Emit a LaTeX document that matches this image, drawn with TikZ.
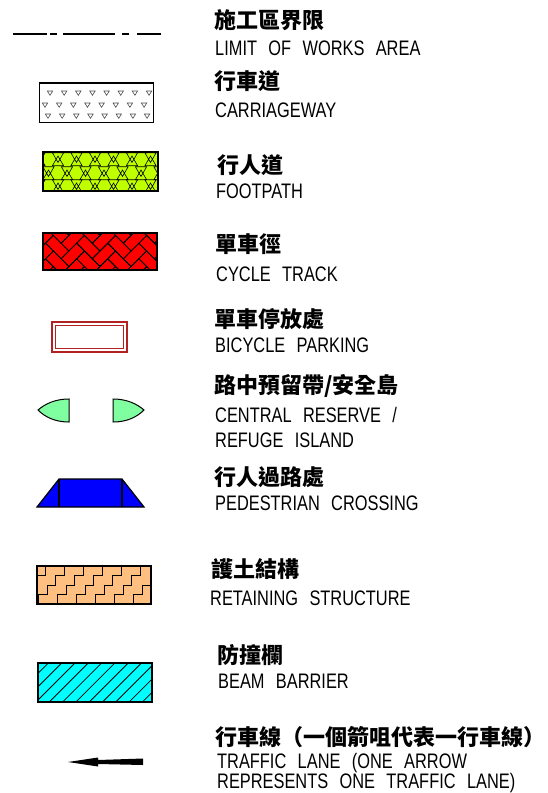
\documentclass[tikz,border=0pt]{standalone}
\usepackage{fontspec}
\setmainfont{Liberation Sans}[FakeStretch=0.78,WordSpace=2.5]
\newfontfamily\cjk{Noto Sans CJK TC}
\definecolor{footgreen}{RGB}{191,255,0}
\definecolor{islandgreen}{RGB}{128,255,160}
\definecolor{retainorange}{RGB}{255,191,128}
\definecolor{parkred}{RGB}{178,34,34}
\definecolor{barriercyan}{RGB}{0,255,255}

\begin{document}
\begin{tikzpicture}[x=1pt,y=-1pt,
    zh/.style={anchor=west,inner sep=0pt,font=\cjk\bfseries\fontsize{22}{22}\selectfont},
    en/.style={anchor=base west,inner sep=0pt,font=\fontsize{21}{21}\selectfont},
    legbox/.style={draw=black,line width=1.5pt},
    hatch/.style={black,line width=0.8pt}]
  \useasboundingbox (0,0) rectangle (548,793);

  % limit of works area
  \draw[line width=2.8pt] (13,34) -- (47,34) (50,34) -- (57,34) (63,34) -- (115,34)
    (122,34) -- (129,34) (137,34) -- (161,34);
  \node[zh] (limitzh) at (214,20) {施工區界限};
  \node[en] (limiten) at (215,55) {LIMIT OF WORKS AREA};

  % carriageway
  \begin{scope}
    \clip (39.5,83) rectangle (153.5,122.5);
    \foreach \yc/\xs in {93/50,105/45,116/48}
      \foreach \k in {0,...,7}
        \draw[hatch,line width=0.6pt,black!70] (\xs+14.15*\k,\yc) ++(-2.7,-2) -- ++(5.4,0) -- ++(-2.7,4.3) -- cycle;
  \end{scope}
  \draw[legbox,line width=1.2pt] (39.5,83) rectangle (153.5,122.5);
  \node[zh] (roadzh) at (214,81) {行車道};
  \node[en] (roaden) at (215,117) {CARRIAGEWAY};

  % footpath
  \fill[footgreen] (43,152) rectangle (158,191);
  \begin{scope}
    \clip (43,152) rectangle (158,191);
    \foreach \yc/\xs in {143/67,156/58,170/67,183/58,197/67}
      \foreach \k in {-1,...,6}
        \draw[hatch,line width=0.6pt] (\xs+18.5*\k,\yc) +(90:6.5) -- +(210:6.5) -- +(330:6.5) -- cycle
                     +(270:6.5) -- +(30:6.5) -- +(150:6.5) -- cycle;
  \end{scope}
  \draw[legbox] (43,152) rectangle (158,191);
  \node[zh] (footzh) at (217,165.5) {行人道};
  \node[en] (footen) at (216,198) {FOOTPATH};

  % cycle track
  \fill[red] (43,233) rectangle (157,270);
  \begin{scope}
    \clip (43,233) rectangle (157,270);
    \begin{scope}[shift={(100,251)},rotate=45,x=11pt,y=11pt]
      \foreach \i in {-9,...,9}
        \foreach \j in {-5,...,5} {
          \draw[hatch] (\i+2*\j,\i-2*\j) rectangle ++(2,1);
          \draw[hatch] (\i+2*\j,\i-2*\j+1) rectangle ++(1,2);
        }
    \end{scope}
  \end{scope}
  \draw[legbox] (43,233) rectangle (157,270);
  \node[zh] (cyclezh) at (215,244) {單車徑};
  \node[en] (cycleen) at (216,281) {CYCLE TRACK};

  % bicycle parking
  \draw[parkred,line width=1.3pt] (52,322) rectangle (127,352);
  \draw[parkred,line width=1.3pt] (55.5,325.5) rectangle (123.5,348.5);
  \node[zh] (parkzh) at (214,319) {單車停放處};
  \node[en] (parken) at (215,352) {BICYCLE PARKING};

  % central reserve / refuge island
  \filldraw[fill=islandgreen,draw=black,line width=1pt] (69,399) .. controls (55,399) and (45,404) .. (38,410)
    .. controls (45,417) and (55,422) .. (69,422) -- cycle;
  \filldraw[fill=islandgreen,draw=black,line width=1pt] (113,399) .. controls (127,399) and (137,404) .. (144,410)
    .. controls (137,417) and (127,422) .. (113,422) -- cycle;
  \node[zh] (islandzh) at (214,386) {路中預留帶/安全島};
  \node[en] (islanden) at (215,422) {CENTRAL RESERVE /};
  \node[en] (islandenb) at (215,447) {REFUGE ISLAND};

  % pedestrian crossing
  \filldraw[fill=blue,draw=black,line width=1.2pt] (37,507) -- (59,479) -- (122,479) -- (144,507) -- cycle;
  \draw[line width=1.2pt] (59,479) -- (59,507) (122,479) -- (122,507);
  \node[zh] (crosszh) at (214,477.5) {行人過路處};
  \node[en] (crossen) at (215,510) {PEDESTRIAN CROSSING};

  % retaining structure
  \fill[retainorange] (37,566) rectangle (151,604);
  \begin{scope}
    \clip (37,566) rectangle (151,604);
    \foreach \k in {-3,...,7}
      \draw[hatch] (19*\k+30,604) -- ++(8.5,0) -- ++(0,-9.5) -- ++(8.5,0) -- ++(0,-9.5)
        -- ++(8.5,0) -- ++(0,-9.5) -- ++(8.5,0) -- ++(0,-9.5) -- ++(8.5,0);
  \end{scope}
  \draw[legbox] (37,566) rectangle (151,604);
  \node[zh] (retainzh) at (211,569) {護土結構};
  \node[en] (retainen) at (210,605) {RETAINING STRUCTURE};

  % beam barrier
  \fill[barriercyan] (38,663) rectangle (152,702);
  \begin{scope}
    \clip (38,663) rectangle (152,702);
    \foreach \k in {-3,...,9}
      \draw[hatch] (61.7+13.3*\k,663) -- ++(-39,39);
  \end{scope}
  \draw[legbox] (38,663) rectangle (152,702);
  \node[zh] (barrierzh) at (217,655) {防撞欄};
  \node[en] (barrieren) at (218,688) {BEAM BARRIER};

  % traffic lane
  \fill (68,762) -- (98,757.5) -- (98,760) -- (143,758.5) -- (143,765) -- (98,764) -- (98,766.5) -- cycle;
  \node[zh] (lanezh) at (215,737) {行車線（一個箭咀代表一行車線）};
  \node[en] (laneen) at (217,768) {TRAFFIC LANE (ONE ARROW};
  \node[en] (laneenb) at (217,788) {REPRESENTS ONE TRAFFIC LANE)};
\end{tikzpicture}
\end{document}
